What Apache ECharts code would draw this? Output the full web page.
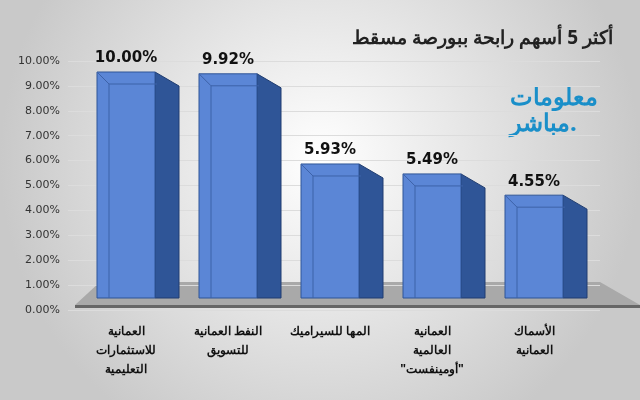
<!DOCTYPE html>
<html><head><meta charset="utf-8">
<script src="https://cdn.jsdelivr.net/npm/echarts@6/dist/echarts.min.js"></script>
<style>html,body{margin:0;padding:0}#c{width:640px;height:400px}</style>
</head><body><div id="c"></div>
<script>
var categories = ['العمانية\nللاستثمارات\nالتعليمية', 'النفط العمانية\nللتسويق', 'المها للسيراميك', 'العمانية\nالعالمية\n"أومينفست"', 'الأسماك\nالعمانية'];
var values = [10.00, 9.92, 5.93, 5.49, 4.55];
var yTicks = [0, 1, 2, 3, 4, 5, 6, 7, 8, 9, 10];

var chart = echarts.init(document.getElementById('c'));
var option = {
  backgroundColor: {type: 'radial', x: 0.5, y: 0.4, r: 0.8,
    colorStops: [{offset: 0, color: '#ffffff'}, {offset: 1, color: '#c9c9c9'}]},
  textStyle: {fontFamily: 'DejaVu Sans'},
  title: {text: 'أكثر 5 أسهم رابحة ببورصة مسقط', right: 22, top: 24,
    textStyle: {fontSize: 19, fontWeight: 'bold', color: '#222', fontFamily: 'Noto Sans'}},
  graphic: [
    {type: 'polygon', z: 0, shape: {points: [[100, 282], [600, 282], [640, 305], [75, 305]]},
      style: {fill: '#a9a9a9'}},
    {type: 'rect', z: 0, shape: {x: 75, y: 305, width: 565, height: 3}, style: {fill: '#666'}},
    {type: 'text', left: 510, top: 85, style: {text: 'معلومات\nمباشر.', fill: '#1a8fc9',
      font: 'bold 24px "Noto Sans"', lineHeight: 26, align: 'center'}}
  ],
  grid: [
    {left: 68, right: 40, top: 61, bottom: 90},
    {left: 75, right: 55, top: 72, bottom: 102}
  ],
  xAxis: [
    {gridIndex: 0, type: 'category', data: categories, show: false},
    {gridIndex: 1, type: 'category', data: categories,
      axisLine: {show: false}, axisTick: {show: false},
      axisLabel: {interval: 0, margin: 24, color: '#111', fontSize: 12, fontWeight: 'bold',
        fontFamily: 'Noto Sans', lineHeight: 19}}
  ],
  yAxis: [
    {gridIndex: 0, type: 'value', min: 0, max: 10, interval: 1,
      axisLabel: {formatter: function (v) { return v.toFixed(2) + '%'; }, color: '#333', fontSize: 11},
      splitLine: {lineStyle: {color: '#dcdcdc'}}},
    {gridIndex: 1, type: 'value', min: 0, max: 10, show: false, splitLine: {show: false}}
  ],
  series: [{
    type: 'custom', xAxisIndex: 1, yAxisIndex: 1, data: values,
    renderItem: function (params, api) {
      var top = api.coord([api.value(0), api.value(1)]);
      var bot = api.coord([api.value(0), 0]);
      var w = 58, d = 24, x0 = top[0] - w / 2, x1 = top[0] + w / 2;
      return {type: 'group', children: [
        {type: 'polygon', shape: {points: [[x1, top[1]], [x1 + d, top[1] + 14], [x1 + d, bot[1]], [x1, bot[1]]]},
          style: {fill: '#2f5597', stroke: '#203d70', lineWidth: 1}},
        {type: 'rect', shape: {x: x0, y: top[1], width: w, height: bot[1] - top[1]},
          style: {fill: '#5b86d6', stroke: '#2f5597', lineWidth: 1}},
        {type: 'polyline', shape: {points: [[x0, top[1]], [x0 + 12, top[1] + 12], [x1 + 2, top[1] + 12]]},
          style: {stroke: '#3d62a8', lineWidth: 1, fill: null}},
        {type: 'line', shape: {x1: x0 + 12, y1: top[1] + 12, x2: x0 + 12, y2: bot[1]},
          style: {stroke: '#3d62a8', lineWidth: 1}},
        {type: 'text', x: top[0], y: top[1] - 6,
          style: {text: api.value(1).toFixed(2) + '%', align: 'center', verticalAlign: 'bottom',
            fill: '#111', font: 'bold 15px "DejaVu Sans"'}}
      ]};
    }
  }]
};
chart.setOption(option);
</script></body></html>
